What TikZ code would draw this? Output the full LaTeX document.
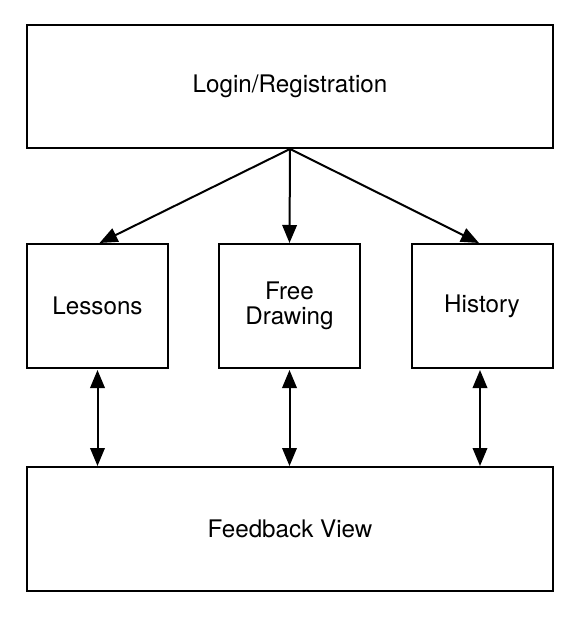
\documentclass[tikz,border=0pt]{standalone}
\usepackage{fontspec}
\setmainfont{TeX Gyre Heros}
\usetikzlibrary{arrows.meta, positioning}

\begin{document}
\begin{tikzpicture}[
    x=1pt, y=-1pt,
    box/.style={rectangle, draw, line width=2pt, inner sep=0pt, minimum width=141pt, minimum height=124pt, align=center, font=\fontsize{24.2}{25}\selectfont},
    wide/.style={box, minimum width=526pt, minimum height=123pt},
    arrow/.style={-{Triangle[length=18pt, width=14.5pt]}, line width=2pt},
    biarrow/.style={{Triangle[length=18pt, width=14.5pt]}-{Triangle[length=18pt, width=14.5pt]}, line width=2pt}
]
\useasboundingbox (0,0) rectangle (578,620);

% Entry
\node[wide] (login) at (290, 86.5) {Login/Registration};

% Sections (side by side)
\node[box] (lessons) at (97.5, 306) {Lessons};
\node[box] (free) at (289.5, 306) {Free\\Drawing};
\node[box] (history) at (482, 306) {History};

% Feedback
\node[wide, minimum height=124pt] (feedback) at (290, 529) {Feedback View};

% Login arrows (diverging)
\draw[arrow] (login.south) -- ([xshift=2pt]lessons.north);
\draw[arrow] (login.south) -- (free.north);
\draw[arrow] (login.south) -- ([xshift=-3pt]history.north);

% Feedback links
\draw[biarrow] ([yshift=-1pt]lessons.south) -- (feedback.north -| lessons.south);
\draw[biarrow] ([yshift=-1pt]free.south) -- (feedback.north -| free.south);
\draw[biarrow] ([xshift=-2pt, yshift=-1pt]history.south) -- ([xshift=-2pt]feedback.north -| history.south);

\end{tikzpicture}
\end{document}
